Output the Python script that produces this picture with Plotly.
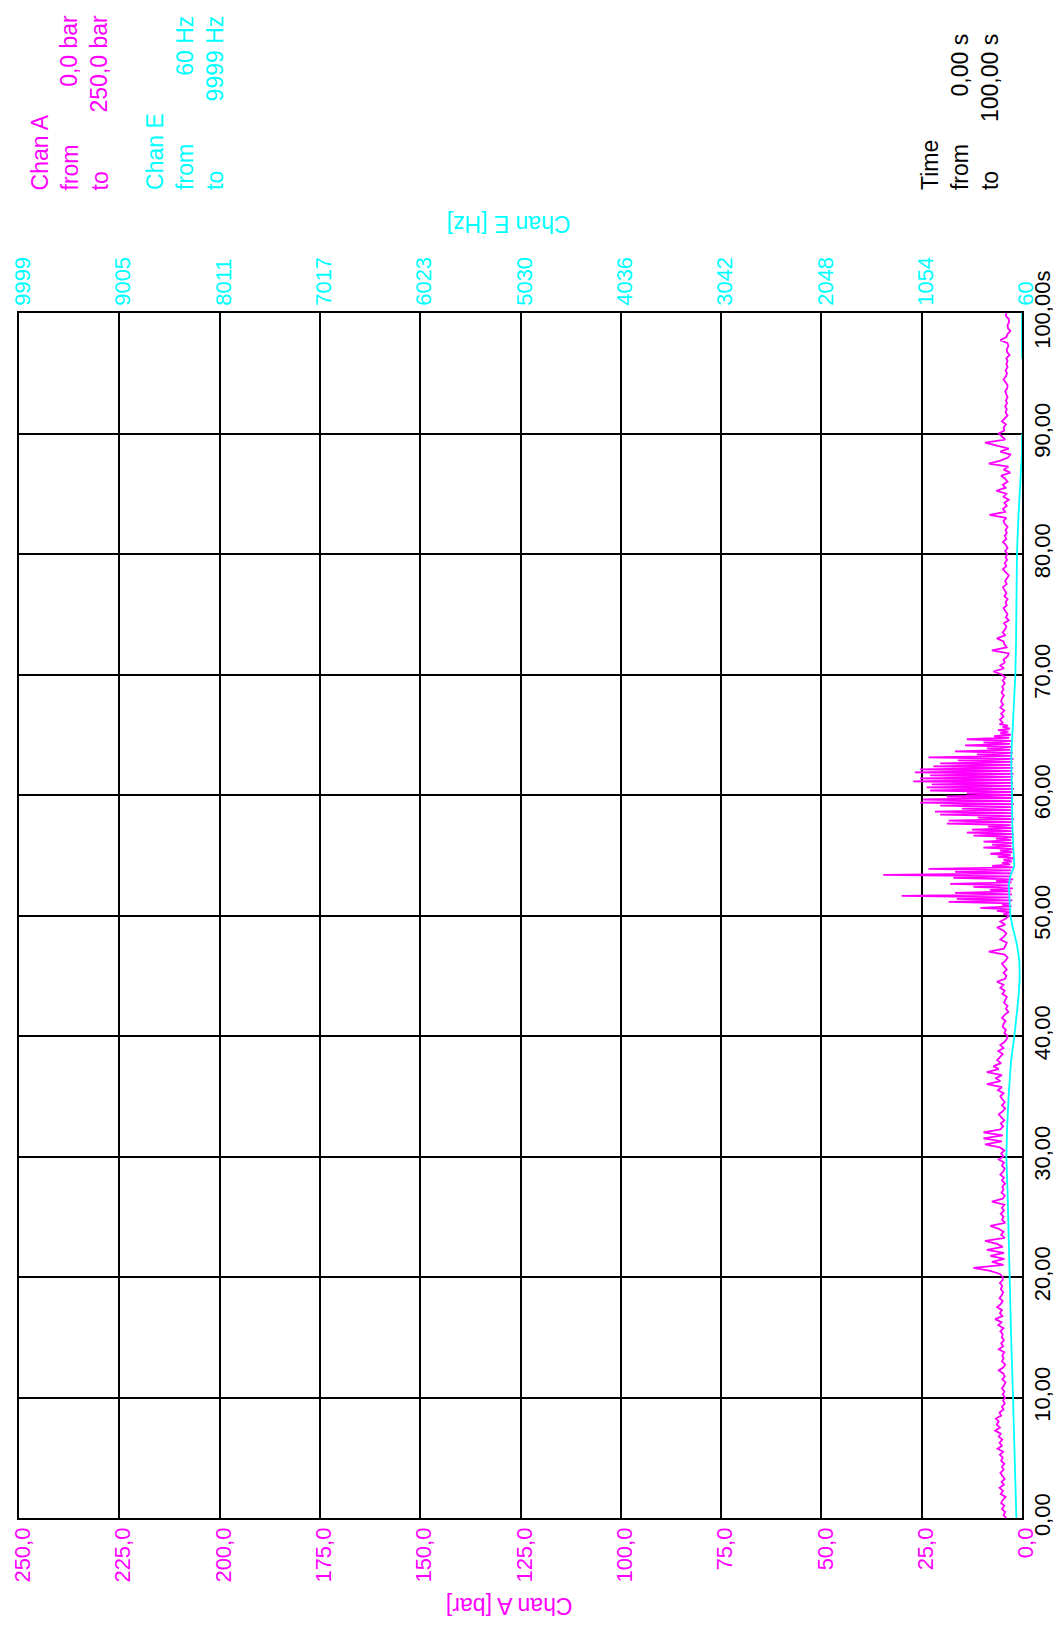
import numpy as np
import plotly.graph_objects as go

# ---------------- data ----------------
chan_a_ticks = [0, 25, 50, 75, 100, 125, 150, 175, 200, 225, 250]
chan_a_ticktext = ["0,0", "25,0", "50,0", "75,0", "100,0", "125,0", "150,0",
                   "175,0", "200,0", "225,0", "250,0"]
chan_e_ticks = [60, 1054, 2048, 3042, 4036, 5030, 6023, 7017, 8011, 9005, 9999]
chan_e_ticktext = ["60", "1054", "2048", "3042", "4036", "5030", "6023",
                   "7017", "8011", "9005", "9999"]
time_ticks = [0, 10, 20, 30, 40, 50, 60, 70, 80, 90, 100]
time_ticktext = ["0,00", "10,00", "20,00", "30,00", "40,00", "50,00", "60,00",
                 "70,00", "80,00", "90,00", "100,00s"]

# Chan A [bar], sampled every 0.25 s from 0 s
chan_a_0_10 = [3.9, 4.6, 4.2, 5.0, 4.4, 5.2, 4.8, 4.1, 5.3, 4.7, 5.6, 4.5, 5.1, 4.3,
               4.9, 5.4, 4.6, 5.0, 4.4, 5.2, 4.8, 5.5, 4.7, 6.1, 5.0, 5.6, 4.9, 5.8,
               5.3, 6.7, 5.5, 6.3, 5.8, 6.5, 5.2, 5.6, 4.6, 5.0, 4.3, 4.7]
chan_a_10_20 = [4.2, 4.8, 4.4, 5.0, 4.5, 4.1, 4.9, 4.3, 4.7, 5.8, 4.6, 4.2, 5.0, 4.6,
                4.9, 4.4, 5.8, 4.7, 5.2, 4.5, 5.0, 4.8, 5.4, 4.6, 5.9, 5.1, 6.7, 4.9,
                5.5, 5.0, 6.2, 5.3, 4.8, 5.6, 5.0, 4.7, 5.3, 4.9, 5.5, 4.8]
chan_a_20_30 = [4.8, 5.5, 7.9, 12.1, 4.6, 7.5, 4.4, 7.9, 4.5, 8.75, 4.8, 6.2, 9.2, 4.3,
                5.2, 4.6, 5.8, 7.9, 4.2, 5.0, 4.6, 5.3, 4.5, 5.0, 4.4, 7.5, 4.8, 4.3,
                5.1, 4.6, 4.9, 4.2, 5.0, 4.5, 5.4, 4.7, 4.3, 5.0, 4.5, 5.8]
chan_a_30_40 = [4.6, 5.2, 4.4, 5.5, 9.2, 5.0, 9.6, 4.8, 9.6, 5.4, 4.7, 5.3, 4.4, 5.0,
                5.8, 4.8, 4.2, 5.0, 4.3, 4.9, 5.4, 4.6, 6.0, 5.0, 8.75, 5.4, 6.5, 5.0,
                8.75, 5.8, 7.1, 5.2, 6.2, 5.5, 4.8, 5.9, 4.6, 5.4, 4.4, 3.8]
chan_a_40_50 = [3.6, 4.4, 4.0, 4.8, 4.6, 4.1, 5.0, 4.3, 3.4, 4.0, 3.6, 4.5, 4.2, 3.8,
                4.9, 4.3, 5.4, 4.6, 6.25, 4.2, 3.9, 4.6, 3.8, 4.4, 5.0, 4.1, 3.6, 4.3,
                8.3, 4.5, 4.1, 3.8, 5.4, 4.5, 3.9, 4.6, 6.25, 4.2, 5.4, 4.0]
# Chan A [bar], sampled every 0.125 s from 50 s (burst region)
chan_a_50_66 = [3.2, 4.6, 2.8, 6.25, 3.0, 10.4, 2.6, 5.0, 2.9, 18.3, 2.4, 16.25,
                3.1, 30.0, 2.5, 16.7, 2.8, 8.0, 2.3, 12.1, 3.0, 17.9, 2.6, 6.5,
                2.2, 17.1, 2.9, 34.6, 2.4, 16.7, 2.7, 23.3, 2.3, 7.5, 2.9, 5.0,
                2.5, 4.6, 2.2, 6.0, 2.8, 7.9, 2.4, 5.5, 2.0, 9.6, 2.6, 7.5,
                2.2, 9.6, 2.7, 6.5, 2.3, 12.1, 2.0, 13.75, 2.6, 12.5, 2.2, 8.5,
                2.8, 18.75, 2.3, 18.3, 2.0, 11.0, 2.6, 20.4, 2.2, 21.7, 2.7, 15.0,
                2.3, 20.4, 2.0, 25.4, 2.5, 24.6, 2.2, 18.75, 2.8, 13.75, 2.3, 22.9,
                2.0, 23.75, 2.6, 22.5, 2.2, 27.1, 2.7, 25.4, 2.3, 22.9, 2.1, 26.7,
                2.6, 25.4, 2.2, 22.1, 2.8, 20.4, 2.4, 16.0, 2.1, 23.3, 2.7, 11.25,
                2.3, 16.7, 2.9, 8.75, 2.5, 14.2, 3.0, 9.6, 2.6, 13.75, 3.2, 7.0,
                2.8, 5.4, 3.4, 6.0, 3.0, 4.8, 3.5, 5.6]
# Chan A [bar], sampled every 0.25 s from 66 s
chan_a_66_100 = [4.8, 5.5, 4.6, 5.2, 4.4, 5.4, 4.7, 5.2, 5.0, 4.5, 5.1, 4.6, 4.9, 4.3,
                 4.8, 4.2, 5.0, 7.1, 4.5, 5.4, 4.3, 4.6, 3.6, 3.3, 7.5, 3.8, 4.4, 4.6,
                 6.25, 4.2, 4.8, 4.2, 3.9, 4.5, 3.3, 4.0, 3.6, 4.2, 4.6, 3.8, 4.1, 3.6,
                 4.4, 3.9, 4.3, 4.75, 3.8, 4.2, 3.7, 3.3, 4.1, 4.75, 3.9, 4.3, 3.7, 4.1,
                 3.6, 4.2, 3.6, 4.0, 4.75, 3.9, 4.3, 3.8, 4.1, 3.6, 4.3, 4.6, 3.9, 8.1,
                 4.2, 4.75, 3.8, 4.4, 3.3, 4.6, 3.9, 6.4, 4.1, 4.8, 3.6, 4.2, 5.2, 2.9,
                 4.6, 3.4, 8.3, 5.4, 3.5, 2.9, 5.4, 3.3, 6.25, 9.2, 4.2, 5.0, 5.8, 4.4,
                 4.6, 4.0, 5.0, 4.3, 3.6, 4.1, 3.8, 4.2, 3.75, 4.0, 3.6, 3.9, 4.2, 3.7,
                 3.6, 4.1, 4.6, 4.0, 3.75, 4.1, 3.6, 3.9, 3.6, 3.9, 3.1, 3.7, 3.8, 3.4,
                 3.6, 5.4, 3.9, 3.6, 2.9, 3.5, 3.6, 3.2, 3.3, 4.0, 3.9]

# Chan E [Hz]
chan_e_time = [0, 5.8, 10, 15.4, 20, 24.9, 26.8, 30, 32.3, 35.1, 37.9, 40, 40.6, 42,
               43.4, 44.8, 46.2, 47.6, 48.9, 50, 51.6, 52.5, 53.3, 54.1, 55, 56.1,
               57.5, 60, 63, 64.4, 67.1, 70, 72.7, 75, 77.5, 80, 83, 84.5, 86, 87.5,
               88.5, 89.9, 90.0, 96.2, 96.3, 100]
chan_e_hz = [116, 133, 149, 169, 182, 192, 202, 215, 208, 192, 169, 136, 126, 110,
             93, 83, 86, 110, 149, 175, 185, 192, 175, 136, 142, 149, 156, 159, 166,
             159, 142, 126, 119, 117, 116, 110, 96, 86, 80, 70, 60, 60, 0, 0, 60, 60]

# ---------------- build ----------------
segments = [
    (0.0, 0.25, chan_a_0_10 + chan_a_10_20 + chan_a_20_30 + chan_a_30_40 + chan_a_40_50),
    (50.0, 0.125, chan_a_50_66),
    (66.0, 0.25, chan_a_66_100),
]
t_a = np.concatenate([s + st * np.arange(len(v)) for s, st, v in segments])
v_a = np.concatenate([np.array(v, dtype=float) for _, _, v in segments])

# page body adds an 8 px margin: work in window pixels, convert to figure pixels
OFF = 8
W, H = 1061 - OFF, 1625 - OFF
PLOT_L, PLOT_R, PLOT_T, PLOT_B = 18.5, 1022, 313, 1518   # window pixels
L, R = PLOT_L - OFF, W - (PLOT_R - OFF)
T, B = PLOT_T - OFF, H - (PLOT_B - OFF)
PW, PH = PLOT_R - PLOT_L, PLOT_B - PLOT_T

def px(x):
    return (x - PLOT_L) / PW

def py(y):
    return (PLOT_B - y) / PH

MAG = "#FF00FF"
CYA = "#00FFFF"
FONT = "Liberation Sans, Arial, sans-serif"

fig = go.Figure()
fig.add_trace(go.Scatter(x=chan_e_hz, y=chan_e_time, xaxis="x2", yaxis="y",
                         mode="lines", line=dict(color=CYA, width=1.8),
                         showlegend=False, hoverinfo="skip"))
fig.add_trace(go.Scatter(x=v_a, y=t_a, xaxis="x", yaxis="y",
                         mode="lines", line=dict(color=MAG, width=1.8),
                         showlegend=False, hoverinfo="skip"))

fig.update_layout(
    width=W, height=H,
    margin=dict(l=L, r=R, t=T, b=B, pad=0, autoexpand=False),
    paper_bgcolor="white", plot_bgcolor="white",
    font=dict(family=FONT, size=22, color="black"),
    xaxis=dict(range=[250, 0], tickmode="array", tickvals=chan_a_ticks,
               ticktext=chan_a_ticktext, tickangle=-90, side="bottom",
               tickfont=dict(color=MAG, size=22, family=FONT),
               showgrid=True, gridcolor="black", gridwidth=1.5,
               showline=True, linecolor="black", linewidth=1.5, mirror=False,
               zeroline=False, ticks="", ticklabelstandoff=-1, automargin=False,
               ticklabeloverflow="allow", ticklabelshift=-4),
    xaxis2=dict(range=[9999, 60], overlaying="x", side="top", tickmode="array",
                tickvals=chan_e_ticks, ticktext=chan_e_ticktext, tickangle=-90,
                tickfont=dict(color=CYA, size=22, family=FONT),
                showgrid=False, showline=True, linecolor="black", linewidth=1.5,
                zeroline=False, ticks="", ticklabelstandoff=1, automargin=False,
                ticklabeloverflow="allow", ticklabelshift=-4),
    yaxis=dict(range=[0, 100], tickmode="array", tickvals=time_ticks,
               ticktext=time_ticktext, tickangle=-90, side="right",
               tickfont=dict(color="black", size=22, family=FONT),
               showgrid=True, gridcolor="black", gridwidth=1.5,
               showline=True, linecolor="black", linewidth=1.5, mirror=True,
               zeroline=False, ticks="", automargin=False,
               ticklabeloverflow="allow"),
)

ann = []
def add(text, x, y, xanchor, yanchor, color, angle, align="left", size=23):
    ann.append(dict(text=text, x=px(x), y=py(y), xref="paper", yref="paper",
                    xanchor=xanchor, yanchor=yanchor, showarrow=False,
                    textangle=angle, align=align,
                    font=dict(family=FONT, size=size, color=color)))

# axis titles (upside down)
add("Chan E [Hz]", 508, 224, "center", "middle", CYA, 180)
add("Chan A [bar]", 509, 1606, "center", "middle", MAG, 180)

# info blocks
add("Chan A<br>from<br>to", 70, 192, "center", "bottom", MAG, -90, "left")
add("0,0 bar<br>250,0 bar", 84, 12, "center", "top", MAG, -90, "right")
add("Chan E<br>from<br>to", 185, 192, "center", "bottom", CYA, -90, "left")
add("60 Hz<br>9999 Hz", 200, 13, "center", "top", CYA, -90, "right")
add("Time<br>from<br>to", 960, 192, "center", "bottom", "black", -90, "left")
add("0,00 s<br>100,00 s", 975, 32, "center", "top", "black", -90, "right")

fig.update_layout(annotations=ann)
fig.write_html("out.html")
